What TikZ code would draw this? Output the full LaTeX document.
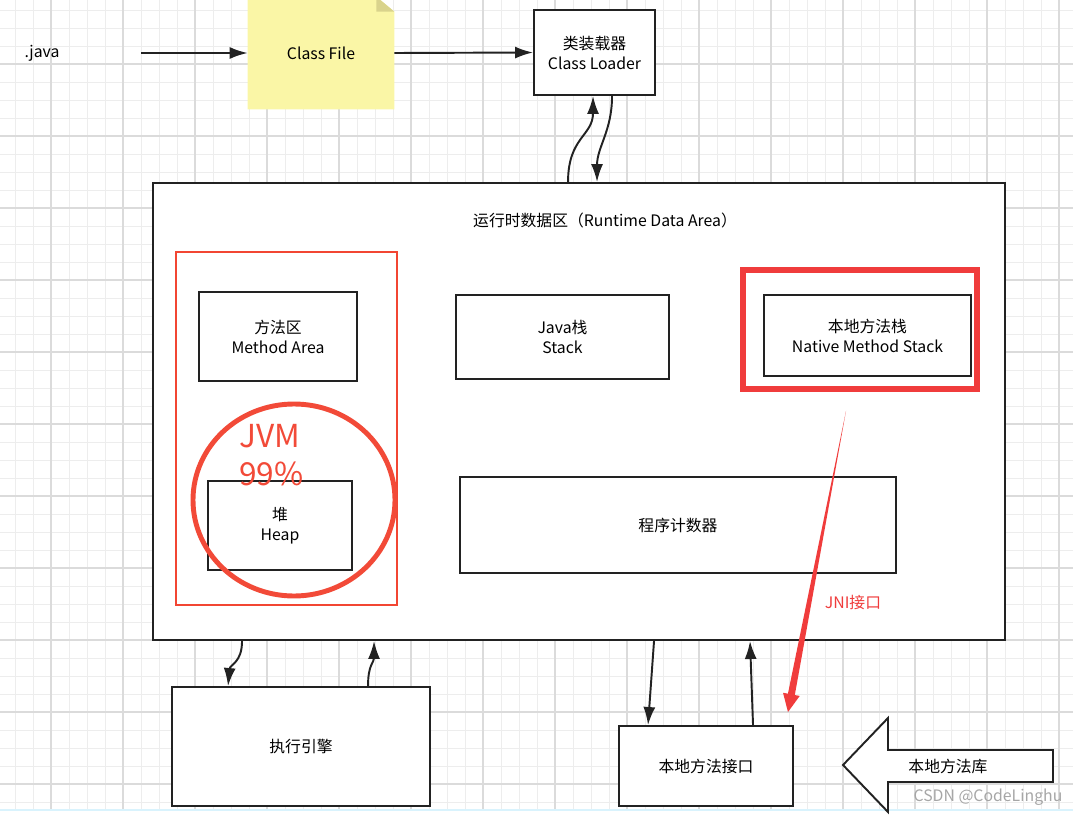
\documentclass[tikz,border=0pt]{standalone}
\usepackage{fontspec}
\setmainfont{Noto Sans CJK SC}
\usetikzlibrary{calc}
\usetikzlibrary{arrows.meta}

\definecolor{notefill}{HTML}{FAF6A6}
\definecolor{notefold}{HTML}{D9D38C}
\definecolor{markred}{HTML}{F03C3C}
\definecolor{circred}{HTML}{F24A38}
\definecolor{linegray}{HTML}{222222}

\begin{document}
\begin{tikzpicture}[x=0.02cm, y=-0.02cm,
    every node/.style={font=\fontsize{9}{11.4}\selectfont},
    boxsize/.style 2 args={minimum width=#1*0.02cm, minimum height=#2*0.02cm},
    box/.style={draw=linegray, line width=1.1pt, fill=white, align=center, inner sep=0pt},
    flow/.style={draw=linegray, line width=1.1pt, -{Latex[length=0.36cm,width=0.24cm]}},
    gridminor/.style={draw=black!7, line width=0.5pt},
    gridmajor/.style={draw=black!14, line width=0.6pt}]

    \useasboundingbox (0,0) rectangle (1073,818);

    % grid
    \foreach \gx in {15,33,...,1071} \draw[gridminor] (\gx,0) -- (\gx,810);
    \foreach \gy in {10,28,...,810} \draw[gridminor] (0,\gy) -- (1073,\gy);
    \foreach \gx in {51,123,...,1071} \draw[gridmajor] (\gx,0) -- (\gx,810);
    \foreach \gy in {64,136,...,810} \draw[gridmajor] (0,\gy) -- (1073,\gy);
    \draw[cyan!15, line width=0.8pt] (0,810) -- (1073,810);

    % top row
    \node (java) at (42,53) {.java};
    \node[boxsize={146}{112}, inner sep=0pt] (classfile) at (321,53) {};
    \fill[notefill] (classfile.north west) -- ($(classfile.north east)+(-18,0)$) -- ($(classfile.north east)+(0,15)$) -- (classfile.south east) -- (classfile.south west) -- cycle;
    \fill[notefold] ($(classfile.north east)+(-18,0)$) -- ($(classfile.north east)+(-18,15)$) -- ($(classfile.north east)+(0,15)$) -- cycle;
    \node (classfiletext) at (classfile) {Class File};
    \node[box, boxsize={121}{85}] (loader) at (594.5,52.5) {类装载器\\Class Loader};

    \draw[flow] ($(java)+(99,0)$) -- (classfile.west);
    \draw[flow] (classfile.east) -- (loader.west);

    % runtime data area
    \node[box, boxsize={852}{457}] (runtime) at (579,411.5) {};
    \node (title) at (605,220) {运行时数据区（Runtime Data Area）};

    \draw[flow] ($(runtime.north west)+(416,0)$) .. controls +(0,-45) and +(0,40) .. ($(loader.south west)+(60,0)$);
    \draw[flow] ($(loader.south west)+(79,0)$) .. controls +(0,35) and +(0,-35) .. ($(runtime.north west)+(445,0)$);

    \node[draw=markred!85!orange, line width=1.6pt, boxsize={221}{353}, inner sep=0pt] (jvmarea) at (286.5,428.5) {};
    \node[box, boxsize={158}{89}] (method) at (278,336.5) {方法区\\Method Area};
    \node[box, boxsize={213}{84}] (stack) at (562.5,337) {Java栈\\Stack};
    \node[draw=markred, line width=3.4pt, boxsize={234}{119}, inner sep=0pt] (nativered) at (860,329.5) {};
    \node[box, boxsize={207}{81}] (native) at (867.5,335.5) {本地方法栈\\Native Method Stack};
    \node[box, boxsize={144}{89}] (heap) at (280,525.5) {堆\\Heap};
    \node[box, boxsize={436}{96}] (pc) at (678,525) {程序计数器};

    \draw[circred, line width=2.8pt] (294,500) ellipse [x radius=101, y radius=96];
    \node[text=circred, anchor=base west, align=left, inner sep=0pt, font=\fontsize{18}{21.6}\selectfont] (jvmlabel) at (239,485) {JVM\\99\%};

    % bottom row
    \node[box, boxsize={258}{119}] (engine) at (301,746.5) {执行引擎};
    \node[box, boxsize={174}{80}] (nif) at (706,766) {本地方法接口};

    \draw[flow] ($(runtime.south west)+(90,0)$) .. controls +(0,22) and +(2,-22) .. ($(engine.north west)+(57,0)$);
    \draw[flow] ($(engine.north west)+(197,0)$) .. controls +(0,-22) and +(0,22) .. ($(runtime.south west)+(222,0)$);
    \draw[flow] ($(runtime.south west)+(502,0)$) -- ($(nif.north west)+(30,0)$);
    \draw[flow] ($(nif.north west)+(135,0)$) -- ($(runtime.south west)+(598,0)$);

    % JNI
    \coordinate (jnia) at ($(nativered.south)+(-14,19)$);
    \coordinate (jnib) at ($(nif.north east)+(-6,-13)$);
    \coordinate (jnih) at ($(jnib)!0.36cm!(jnia)$);
    \fill[markred] (jnia) -- ($(jnih)!0.07cm!90:(jnib)$) -- ($(jnih)!0.17cm!90:(jnib)$) -- (jnib)
        -- ($(jnih)!0.17cm!-90:(jnib)$) -- ($(jnih)!0.07cm!-90:(jnib)$) -- cycle;
    \node[text=markred] (jnilabel) at (853,603) {JNI接口};

    % native library
    \draw[linegray, line width=1.1pt, fill=white] (843,765) -- (888,718) -- (888,750) -- (1053,750) -- (1053,782) -- (888,782) -- (888,812) -- cycle;
    \node (library) at (948,766) {本地方法库};

    \node[text=black!35] (watermark) at (988,797) {CSDN @CodeLinghu};
\end{tikzpicture}
\end{document}
